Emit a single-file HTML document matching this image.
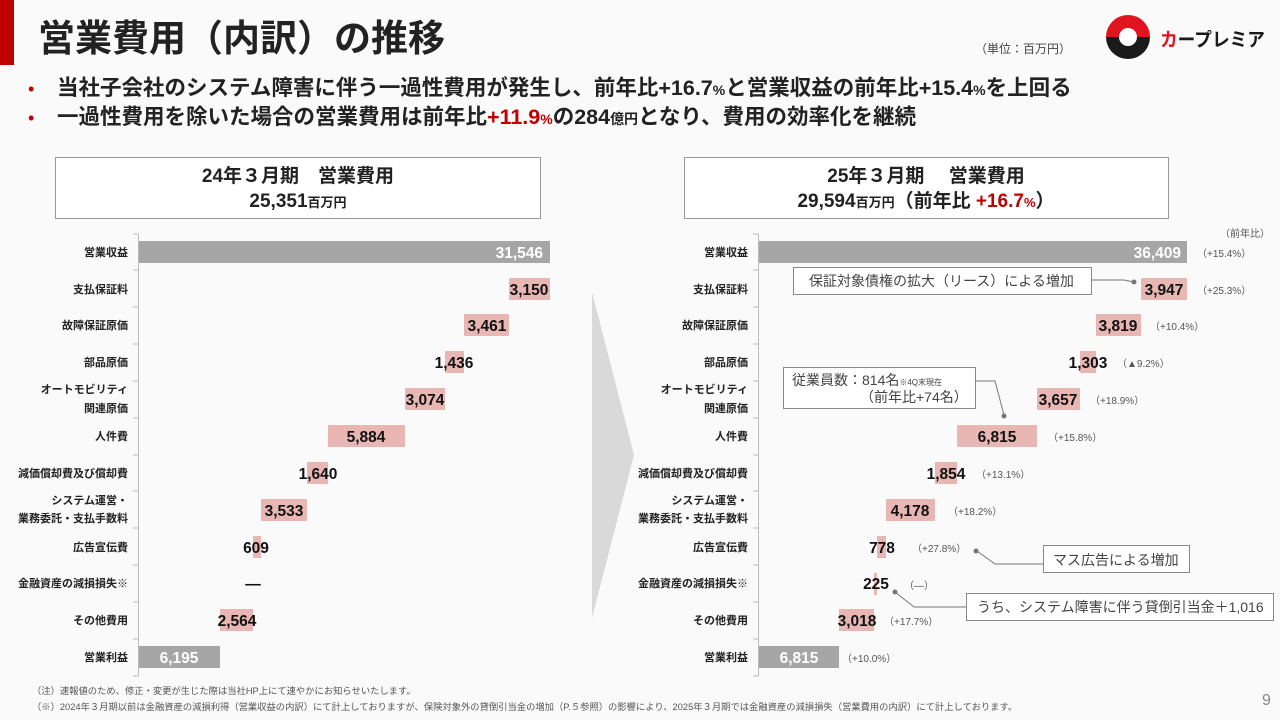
<!DOCTYPE html>
<html><head><meta charset="utf-8"><style>
html,body{margin:0;padding:0;background:#fafafa;}
svg{display:block;font-family:"Liberation Sans","Noto Sans CJK JP",sans-serif;}
.cat{font-size:11px;font-weight:bold;fill:#222;text-anchor:end;}
.v{font-size:15.5px;font-weight:bold;fill:#111;text-anchor:middle;}
.vw{font-size:15.5px;font-weight:bold;fill:#fff;}
.p{font-size:10px;fill:#555;}
.cb{font-size:14px;fill:#444;}
</style></head><body>
<svg width="1280" height="720" viewBox="0 0 1280 720">
<rect width="1280" height="720" fill="#fafafa"/>
<rect x="0" y="0" width="14" height="65" fill="#c00000"/>
<text x="38" y="51" font-size="37" font-weight="bold" fill="#222">営業費用（内訳）の推移</text>
<text x="975" y="53" font-size="12" fill="#444">（単位：百万円）</text>
<!-- logo -->
<g>
<path d="M1106,37 A22,22 0 0 1 1150,37 Z" fill="#e0141e"/>
<path d="M1106,37 A22,22 0 0 0 1150,37 Z" fill="#1a1a1a"/>
<circle cx="1128" cy="37" r="9" fill="#fff"/>
<text x="1160" y="46" font-size="19" font-weight="bold" fill="#1a1a1a" textLength="105" lengthAdjust="spacingAndGlyphs"><tspan fill="#e0141e">カ</tspan>ープレミア</text>
</g>
<text x="28" y="95" font-size="18" fill="#c00000">•</text>
<text x="57" y="95" font-size="21.5" font-weight="bold" fill="#222">当社子会社のシステム障害に伴う一過性費用が発生し、前年比+16.7<tspan font-size="14">%</tspan>と営業収益の前年比+15.4<tspan font-size="14">%</tspan>を上回る</text>
<text x="28" y="124" font-size="18" fill="#c00000">•</text>
<text x="57" y="124" font-size="21.5" font-weight="bold" fill="#222">一過性費用を除いた場合の営業費用は前年比<tspan fill="#c00000">+11.9<tspan font-size="14">%</tspan></tspan>の284<tspan font-size="14">億円</tspan>となり、費用の効率化を継続</text>

<!-- title boxes -->
<rect x="55.5" y="157.5" width="485" height="61" fill="#fff" stroke="#999"/>
<text x="298" y="182" font-size="19" font-weight="bold" fill="#222" text-anchor="middle">24年３月期　営業費用</text>
<text x="298" y="207" font-size="19" font-weight="bold" fill="#222" text-anchor="middle">25,351<tspan font-size="13">百万円</tspan></text>
<rect x="684.5" y="157.5" width="484" height="61" fill="#fff" stroke="#999"/>
<text x="926" y="182" font-size="19" font-weight="bold" fill="#222" text-anchor="middle">25年３月期　 営業費用</text>
<text x="926" y="207" font-size="19" font-weight="bold" fill="#222" text-anchor="middle">29,594<tspan font-size="13">百万円</tspan>（前年比 <tspan fill="#c00000">+16.7<tspan font-size="13">%</tspan></tspan>）</text>

<!-- arrow -->
<polygon points="592,292 634,455 592,618" fill="#d9d9d9"/>

<!-- LEFT chart -->
<g>
<line x1="138.5" y1="234" x2="138.5" y2="676" stroke="#bbb"/>
<g stroke="#bbb">
<line x1="133" y1="234" x2="138" y2="234"/><line x1="133" y1="270" x2="138" y2="270"/><line x1="133" y1="307" x2="138" y2="307"/><line x1="133" y1="344" x2="138" y2="344"/><line x1="133" y1="381" x2="138" y2="381"/><line x1="133" y1="418" x2="138" y2="418"/><line x1="133" y1="455" x2="138" y2="455"/><line x1="133" y1="491" x2="138" y2="491"/><line x1="133" y1="528" x2="138" y2="528"/><line x1="133" y1="565" x2="138" y2="565"/><line x1="133" y1="602" x2="138" y2="602"/><line x1="133" y1="639" x2="138" y2="639"/><line x1="133" y1="676" x2="138" y2="676"/>
</g>
<text class="cat" x="128" y="256">営業収益</text>
<text class="cat" x="128" y="293">支払保証料</text>
<text class="cat" x="128" y="329">故障保証原価</text>
<text class="cat" x="128" y="366">部品原価</text>
<text class="cat" x="128" y="393">オートモビリティ</text>
<text class="cat" x="128" y="412">関連原価</text>
<text class="cat" x="128" y="440">人件費</text>
<text class="cat" x="128" y="477">減価償却費及び償却費</text>
<text class="cat" x="128" y="504">システム運営・</text>
<text class="cat" x="128" y="522">業務委託・支払手数料</text>
<text class="cat" x="128" y="551">広告宣伝費</text>
<text class="cat" x="128" y="587">金融資産の減損損失※</text>
<text class="cat" x="128" y="624">その他費用</text>
<text class="cat" x="128" y="661">営業利益</text>

<rect x="139" y="241" width="411" height="22" fill="#a6a6a6"/>
<text class="vw" x="543" y="258" text-anchor="end">31,546</text>
<rect x="509" y="278" width="41" height="22" fill="#e8b7b3"/><text class="v" x="529" y="295">3,150</text>
<rect x="464" y="314" width="45" height="22" fill="#e8b7b3"/><text class="v" x="487" y="331">3,461</text>
<rect x="445" y="351" width="19" height="22" fill="#e8b7b3"/><text class="v" x="454" y="368">1,436</text>
<rect x="405" y="388" width="40" height="22" fill="#e8b7b3"/><text class="v" x="425" y="405">3,074</text>
<rect x="328" y="425" width="77" height="22" fill="#e8b7b3"/><text class="v" x="366" y="442">5,884</text>
<rect x="307" y="462" width="21" height="22" fill="#e8b7b3"/><text class="v" x="318" y="479">1,640</text>
<rect x="261" y="499" width="46" height="22" fill="#e8b7b3"/><text class="v" x="284" y="516">3,533</text>
<rect x="253" y="536" width="8" height="22" fill="#e8b7b3"/><text class="v" x="256" y="553">609</text>
<text class="v" x="253" y="589">—</text>
<rect x="220" y="609" width="33" height="22" fill="#e8b7b3"/><text class="v" x="237" y="626">2,564</text>
<rect x="139" y="646" width="81" height="22" fill="#a6a6a6"/>
<text class="vw" x="179" y="663" text-anchor="middle">6,195</text>
</g>

<!-- RIGHT chart -->
<g>
<line x1="758.5" y1="234" x2="758.5" y2="676" stroke="#bbb"/>
<g stroke="#bbb">
<line x1="753" y1="234" x2="758" y2="234"/><line x1="753" y1="270" x2="758" y2="270"/><line x1="753" y1="307" x2="758" y2="307"/><line x1="753" y1="344" x2="758" y2="344"/><line x1="753" y1="381" x2="758" y2="381"/><line x1="753" y1="418" x2="758" y2="418"/><line x1="753" y1="455" x2="758" y2="455"/><line x1="753" y1="491" x2="758" y2="491"/><line x1="753" y1="528" x2="758" y2="528"/><line x1="753" y1="565" x2="758" y2="565"/><line x1="753" y1="602" x2="758" y2="602"/><line x1="753" y1="639" x2="758" y2="639"/><line x1="753" y1="676" x2="758" y2="676"/>
</g>
<text class="cat" x="748" y="256">営業収益</text>
<text class="cat" x="748" y="293">支払保証料</text>
<text class="cat" x="748" y="329">故障保証原価</text>
<text class="cat" x="748" y="366">部品原価</text>
<text class="cat" x="748" y="393">オートモビリティ</text>
<text class="cat" x="748" y="412">関連原価</text>
<text class="cat" x="748" y="440">人件費</text>
<text class="cat" x="748" y="477">減価償却費及び償却費</text>
<text class="cat" x="748" y="504">システム運営・</text>
<text class="cat" x="748" y="522">業務委託・支払手数料</text>
<text class="cat" x="748" y="551">広告宣伝費</text>
<text class="cat" x="748" y="587">金融資産の減損損失※</text>
<text class="cat" x="748" y="624">その他費用</text>
<text class="cat" x="748" y="661">営業利益</text>

<text class="p" x="1220" y="237">（前年比）</text>
<rect x="759" y="241" width="428" height="22" fill="#a6a6a6"/>
<text class="vw" x="1181" y="258" text-anchor="end">36,409</text><text class="p" x="1197" y="257">（+15.4%）</text>
<rect x="1141" y="278" width="46" height="22" fill="#e8b7b3"/><text class="v" x="1164" y="295">3,947</text><text class="p" x="1197" y="294">（+25.3%）</text>
<rect x="1096" y="314" width="45" height="22" fill="#e8b7b3"/><text class="v" x="1118" y="331">3,819</text><text class="p" x="1150" y="330">（+10.4%）</text>
<rect x="1080" y="351" width="16" height="22" fill="#e8b7b3"/><text class="v" x="1088" y="368">1,303</text><text class="p" x="1117" y="367">（▲9.2%）</text>
<rect x="1037" y="388" width="43" height="22" fill="#e8b7b3"/><text class="v" x="1058" y="405">3,657</text><text class="p" x="1090" y="404">（+18.9%）</text>
<rect x="957" y="425" width="80" height="22" fill="#e8b7b3"/><text class="v" x="997" y="442">6,815</text><text class="p" x="1048" y="441">（+15.8%）</text>
<rect x="935" y="462" width="22" height="22" fill="#e8b7b3"/><text class="v" x="946" y="479">1,854</text><text class="p" x="976" y="478">（+13.1%）</text>
<rect x="886" y="499" width="49" height="22" fill="#e8b7b3"/><text class="v" x="910" y="516">4,178</text><text class="p" x="948" y="515">（+18.2%）</text>
<rect x="877" y="536" width="9" height="22" fill="#e8b7b3"/><text class="v" x="882" y="553">778</text><text class="p" x="912" y="552">（+27.8%）</text>
<rect x="874" y="573" width="3" height="22" fill="#e8b7b3"/><text class="v" x="876" y="589">225</text><text class="p" x="904" y="589">（—）</text>
<rect x="839" y="609" width="35" height="22" fill="#e8b7b3"/><text class="v" x="857" y="626">3,018</text><text class="p" x="884" y="625">（+17.7%）</text>
<rect x="759" y="646" width="80" height="22" fill="#a6a6a6"/>
<text class="vw" x="799" y="663" text-anchor="middle">6,815</text><text class="p" x="842" y="662">（+10.0%）</text>
</g>

<!-- callouts -->
<g fill="#fff" stroke="#888" stroke-width="1">
<rect x="793.5" y="267.5" width="298" height="27"/>
<rect x="783.5" y="367.5" width="192" height="41"/>
<rect x="1043.5" y="545.5" width="146" height="27"/>
<rect x="966.5" y="593.5" width="307" height="27"/>
</g>
<g fill="none" stroke="#777" stroke-width="1">
<polyline points="1091,280 1124,280 1134,282"/>
<polyline points="975,381 995,381 1004,415"/>
<polyline points="977,551 995,564 1043,564"/>
<polyline points="895,592 914,607 966,607"/>
</g>
<g fill="#777">
<circle cx="1134" cy="282" r="2.5"/><circle cx="1004" cy="416" r="2.5"/><circle cx="976" cy="551" r="2.5"/><circle cx="895" cy="592" r="2.5"/>
</g>
<text class="cb" x="809" y="286">保証対象債権の拡大（リース）による増加</text>
<text class="cb" x="792" y="385">従業員数：814名<tspan font-size="8">※4Q末現在</tspan></text>
<text class="cb" x="860" y="402">（前年比+74名）</text>
<text class="cb" x="1053" y="565">マス広告による増加</text>
<text class="cb" x="977" y="612">うち、システム障害に伴う貸倒引当金＋1,016</text>

<!-- footnotes -->
<text x="32" y="694" font-size="9.3" fill="#555">（注）速報値のため、修正・変更が生じた際は当社HP上にて速やかにお知らせいたします。</text>
<text x="32" y="710" font-size="9.3" fill="#555">（※）2024年３月期以前は金融資産の減損利得（営業収益の内訳）にて計上しておりますが、保険対象外の貸倒引当金の増加（P.５参照）の影響により、2025年３月期では金融資産の減損損失（営業費用の内訳）にて計上しております。</text>
<text x="1262" y="705" font-size="16" fill="#888">9</text>
</svg>
</body></html>
